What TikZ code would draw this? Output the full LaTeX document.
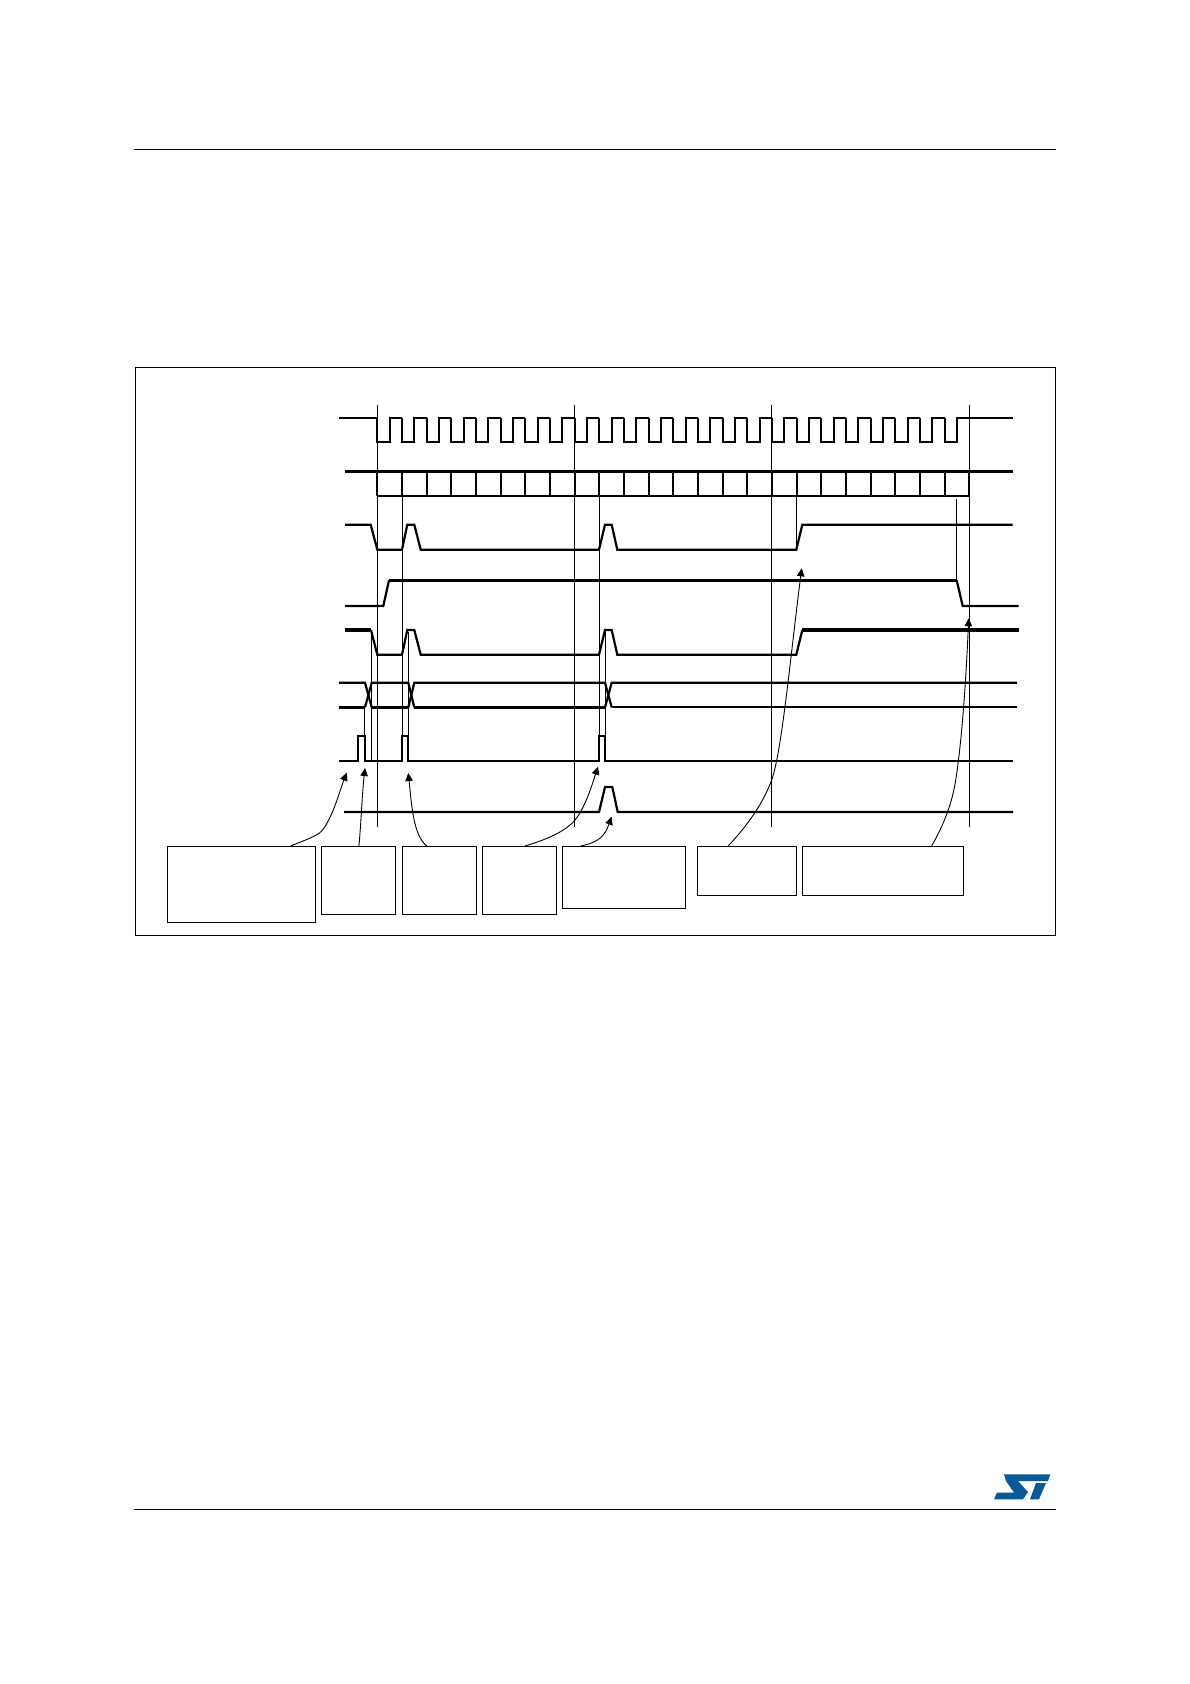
\documentclass[tikz,border=0pt]{standalone}
\usetikzlibrary{arrows.meta}
\tikzset{
  wave/.style={line width=2.2pt,line join=miter},
  wavethick/.style={line width=3.2pt},
  guide/.style={line width=1pt},
  note/.style={line width=0.9pt,-{Triangle[length=8pt,width=7.5pt]}},
  notebox/.style={draw,line width=1pt,inner sep=0pt,minimum width=#1},
  rule/.style={line width=1pt}
}
\definecolor{stblue}{RGB}{10,88,150}
\begin{document}
\begin{tikzpicture}[x=1pt,y=-1pt]
  \useasboundingbox (0,0) rectangle (1190,1684);
  \draw[rule] (134,149.5) -- (1056,149.5); % page rules
  \draw[rule] (134,1509) -- (1056,1509);
  \draw[rule] (135.4,367.5) rectangle (1055.7,935.3); % frame
  \foreach \x in {377.3,574.3,771.3,969.3} % long guides
    \draw[guide] (\x,405) -- (\x,827);
  \foreach \x in {402.3,599.3} % guides down to the pulses
    \draw[guide] (\x,496) -- (\x,760);
  \draw[guide] (796.7,496) -- (796.7,549);
  \draw[guide] (956.7,499) -- (956.7,580);
  \draw[guide] (364.3,707) -- (364.3,736);
  \draw[guide] (371.3,630) -- (371.3,760);
  \foreach \x in {408.3,605.3}
    \draw[guide] (\x,632) -- (\x,736);
  % clock
  \draw[wave] (339,417.7) -- (377.3,417.7);
  \foreach \i in {0,...,23} % clock periods
    \draw[wave] ({377.3+24.67*\i},417.7) -- ++(0,24.6) -- ++(12.3,0) -- ++(0,-24.6) -- ++(12.37,0);
  \draw[wave] (969.3,417.7) -- (1012.7,417.7);
  % data bits
  \draw[wavethick] (345,471.3) -- (1012.7,471.3);
  \draw[wave] (377.3,495.7) -- (969.3,495.7);
  \foreach \i in {0,...,24} % bit cells
    \draw[wave] ({377.3+24.67*\i},471.3) -- ++(0,24.4);
  \foreach \x in {377.3,574.3,771.3,969.3} % marks over the bar
    \draw[line width=1.4pt] (\x,461) -- (\x,471);
  % line 3
  \draw[wave] (345,524.7) -- (370.7,524.7) -- (377.3,549.7) -- (402,549.7) -- (407.3,524.7) -- (414.3,524.7) -- (420.7,549.7) -- (599,549.7) -- (605,524.7) -- (611.7,524.7) -- (617.3,549.7) -- (796.3,549.7) -- (802.3,524.7) -- (1012.7,524.7);
  % line 4
  \draw[wave] (345,606) -- (383.3,606) -- (389,580.3);
  \draw[wavethick] (389,580.3) -- (956.7,580.3);
  \draw[wave] (956.7,580.3) -- (962.7,606) -- (1018.7,606);
  % line 5
  \draw[wavethick] (345,630) -- (371,630);
  \draw[wave] (371,630) -- (377.3,654.7) -- (402,654.7) -- (407.3,630) -- (414.3,630) -- (420.7,654.7) -- (599,654.7) -- (605,630) -- (611.7,630) -- (617.3,654.7) -- (796.3,654.7) -- (802.3,630);
  \draw[wavethick] (802.3,630) -- (1018.7,630);
  % line 6
  \draw[wave] (339,682.7) -- (365,682.7) -- (371.7,707.3);
  \draw[wave] (365,707.3) -- (371.7,682.7) -- (408.3,682.7) -- (414.3,707.3);
  \draw[wave] (408.3,707.3) -- (414.3,682.7) -- (605,682.7) -- (611.7,707.3);
  \draw[wave] (605,707.3) -- (611.7,682.7) -- (1017,682.7);
  \draw[wavethick] (339,707.3) -- (365,707.3);
  \draw[wavethick] (371.7,707.3) -- (408.3,707.3);
  \draw[wavethick] (414.3,707.3) -- (605,707.3);
  \draw[wave] (611.7,707.3) -- (1017,707.3);
  % line 7
  \draw[wave] (339,760.7) -- (357.7,760.7) -- (357.7,735.7) -- (365,735.7) -- (365,760.7) -- (402.3,760.7) -- (402.3,735.7) -- (408.3,735.7) -- (408.3,760.7) -- (599.3,760.7) -- (599.3,735.7) -- (605.3,735.7) -- (605.3,760.7) -- (1012.7,760.7);
  % line 8
  \draw[wave] (344,812) -- (599,812) -- (605,787) -- (612.3,787) -- (617.7,812) -- (1013,812);
  % boxes
  \node[notebox=147.8pt,minimum height=75.7pt] (boxa) at (241.3,884.3) {};
  \node[notebox=74.3pt,minimum height=67.7pt] (boxb) at (358.5,880.3) {};
  \node[notebox=74.2pt,minimum height=67.7pt] (boxc) at (439.6,880.3) {};
  \node[notebox=73.8pt,minimum height=67.7pt] (boxd) at (519.4,880.3) {};
  \node[notebox=122.8pt,minimum height=62pt] (boxe) at (623.9,877.4) {};
  \node[notebox=99.4pt,minimum height=49.3pt] (boxf) at (747,871) {};
  \node[notebox=161.4pt,minimum height=49.3pt] (boxg) at (883,871) {};
  % arrow ends
  \coordinate (tipa) at (346.7,772.7);
  \coordinate (tipb) at (365,768);
  \coordinate (tipc) at (408.3,773);
  \coordinate (tipd) at (598,766.7);
  \coordinate (tipe) at (611.7,816.7);
  \coordinate (tipf) at (801.7,568.3);
  \coordinate (tipg) at (968.7,618.3);
  \draw[note] ([xshift=49.4pt]boxa.north) .. controls (305,840) and (315,837) .. (321,831.7) .. controls (332,820) and (340,790) .. (tipa);
  \draw[note] ([xshift=0.4pt]boxb.north) .. controls (361,825) and (362,795) .. (tipb);
  \draw[note] ([xshift=-13pt]boxc.north) .. controls (414,835) and (412,810) .. (tipc);
  \draw[note] ([xshift=5.6pt]boxd.north) .. controls (545,840) and (565,832) .. (575,820) .. controls (585,808) and (592,785) .. (tipd);
  \draw[note] ([xshift=-42.9pt]boxe.north) .. controls (600,842) and (605,835) .. (tipe);
  \draw[note] ([xshift=-18.7pt]boxf.north) .. controls (745,828) and (762,806) .. (771.7,780) .. controls (782,750) and (790,660) .. (tipf);
  \draw[note] ([xshift=48.7pt]boxg.north) .. controls (942,828) and (952,805) .. (955.7,780) .. controls (962,740) and (966,680) .. (tipg);
  % logo
  \fill[stblue] (1004,1474.3) -- (1050.3,1474.3) -- (1048,1481) -- (1018,1481) -- (1028,1492) -- (1023,1499.3) -- (994,1499.3) -- (997,1492.5) -- (1014,1492.5) -- (1006,1481) -- cycle;
  \fill[stblue] (1036,1483) -- (1046,1483) -- (1039,1499.3) -- (1030,1499.3) -- cycle;
\end{tikzpicture}
\end{document}
